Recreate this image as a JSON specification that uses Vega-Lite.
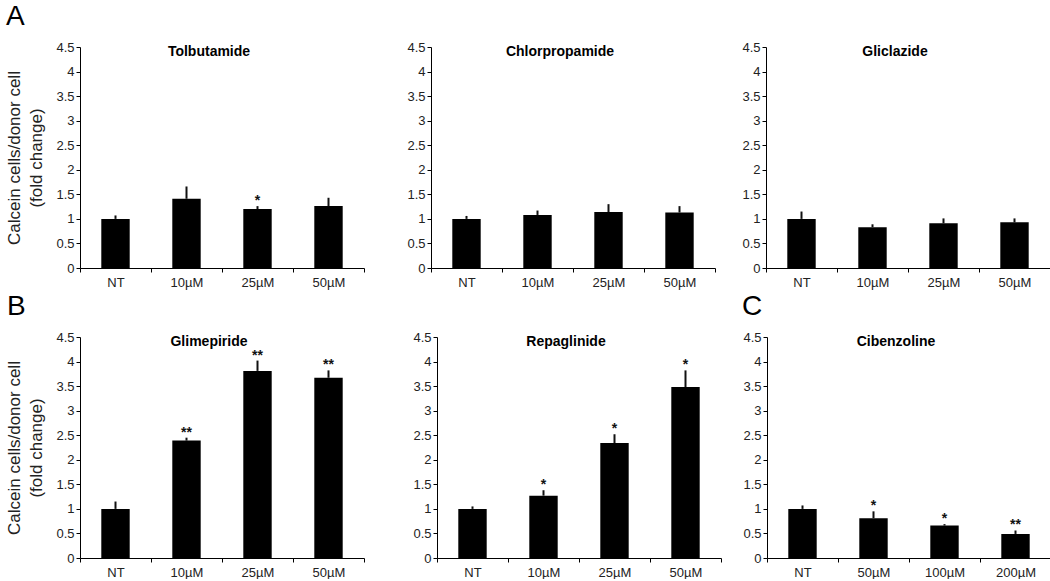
{
  "$schema": "https://vega.github.io/schema/vega-lite/v6.json",
  "background": "white",
  "padding": {"left": 5, "top": 3, "right": 0, "bottom": 0},
  "datasets": {
    "d": [
      {"drug": "Tolbutamide", "conc": "NT", "mean": 1.0, "upper": 1.07, "sig": ""},
      {"drug": "Tolbutamide", "conc": "10µM", "mean": 1.41, "upper": 1.66, "sig": ""},
      {"drug": "Tolbutamide", "conc": "25µM", "mean": 1.2, "upper": 1.26, "sig": "*"},
      {"drug": "Tolbutamide", "conc": "50µM", "mean": 1.26, "upper": 1.43, "sig": ""},
      {"drug": "Chlorpropamide", "conc": "NT", "mean": 1.0, "upper": 1.06, "sig": ""},
      {"drug": "Chlorpropamide", "conc": "10µM", "mean": 1.08, "upper": 1.17, "sig": ""},
      {"drug": "Chlorpropamide", "conc": "25µM", "mean": 1.14, "upper": 1.3, "sig": ""},
      {"drug": "Chlorpropamide", "conc": "50µM", "mean": 1.13, "upper": 1.26, "sig": ""},
      {"drug": "Gliclazide", "conc": "NT", "mean": 1.0, "upper": 1.15, "sig": ""},
      {"drug": "Gliclazide", "conc": "10µM", "mean": 0.83, "upper": 0.89, "sig": ""},
      {"drug": "Gliclazide", "conc": "25µM", "mean": 0.91, "upper": 1.01, "sig": ""},
      {"drug": "Gliclazide", "conc": "50µM", "mean": 0.93, "upper": 1.01, "sig": ""},
      {"drug": "Glimepiride", "conc": "NT", "mean": 1.0, "upper": 1.15, "sig": ""},
      {"drug": "Glimepiride", "conc": "10µM", "mean": 2.39, "upper": 2.45, "sig": "**"},
      {"drug": "Glimepiride", "conc": "25µM", "mean": 3.81, "upper": 4.02, "sig": "**"},
      {"drug": "Glimepiride", "conc": "50µM", "mean": 3.67, "upper": 3.82, "sig": "**"},
      {"drug": "Repaglinide", "conc": "NT", "mean": 1.0, "upper": 1.05, "sig": ""},
      {"drug": "Repaglinide", "conc": "10µM", "mean": 1.27, "upper": 1.38, "sig": "*"},
      {"drug": "Repaglinide", "conc": "25µM", "mean": 2.34, "upper": 2.52, "sig": "*"},
      {"drug": "Repaglinide", "conc": "50µM", "mean": 3.48, "upper": 3.82, "sig": "*"},
      {"drug": "Cibenzoline", "conc": "NT", "mean": 1.0, "upper": 1.07, "sig": ""},
      {"drug": "Cibenzoline", "conc": "50µM", "mean": 0.81, "upper": 0.95, "sig": "*"},
      {"drug": "Cibenzoline", "conc": "100µM", "mean": 0.66, "upper": 0.69, "sig": "*"},
      {"drug": "Cibenzoline", "conc": "200µM", "mean": 0.49, "upper": 0.56, "sig": "**"}
    ]
  },
  "vconcat": [
    {
      "title": {"text": "A", "anchor": "start", "fontSize": 28, "fontWeight": "normal", "offset": 10, "dx": 0, "frame": "bounds"},
      "spacing": 10,
      "hconcat": [
        {
          "width": 284, "height": 221,
          "title": {"text": "Tolbutamide", "offset": -18, "dx": -13, "fontSize": 14, "fontWeight": "bold", "anchor": "middle"},
          "data": {"name": "d"},
          "transform": [{"filter": "datum.drug == 'Tolbutamide'"}],
          "encoding": {
            "x": {"field": "conc", "type": "nominal", "sort": null, "scale": {"paddingInner": 0, "paddingOuter": 0}},
            "y": {"field": "mean", "type": "quantitative", "scale": {"domain": [0, 4.5], "nice": false}, "axis": {"title": ["Calcein cells/donor cell", "(fold change)"], "values": [0, 0.5, 1, 1.5, 2, 2.5, 3, 3.5, 4, 4.5], "format": "~g"}}
          },
          "layer": [
            {"mark": {"type": "bar", "width": {"band": 0.4}, "color": "#000"}},
            {"mark": {"type": "rule", "color": "#111", "strokeWidth": 2}, "encoding": {"y2": {"field": "upper"}}},
            {"mark": {"type": "text", "baseline": "alphabetic", "dy": -1, "fontSize": 14, "fontWeight": "bold", "color": "#111"}, "encoding": {"y": {"field": "upper", "type": "quantitative"}, "text": {"field": "sig"}}}
          ]
        },
        {
          "width": 284, "height": 221,
          "title": {"text": "Chlorpropamide", "offset": -18, "dx": -13, "fontSize": 14, "fontWeight": "bold", "anchor": "middle"},
          "data": {"name": "d"},
          "transform": [{"filter": "datum.drug == 'Chlorpropamide'"}],
          "encoding": {
            "x": {"field": "conc", "type": "nominal", "sort": null, "scale": {"paddingInner": 0, "paddingOuter": 0}},
            "y": {"field": "mean", "type": "quantitative", "scale": {"domain": [0, 4.5], "nice": false}, "axis": {"title": null, "minExtent": 56, "values": [0, 0.5, 1, 1.5, 2, 2.5, 3, 3.5, 4, 4.5], "format": "~g"}}
          },
          "layer": [
            {"mark": {"type": "bar", "width": {"band": 0.4}, "color": "#000"}},
            {"mark": {"type": "rule", "color": "#111", "strokeWidth": 2}, "encoding": {"y2": {"field": "upper"}}},
            {"mark": {"type": "text", "baseline": "alphabetic", "dy": -1, "fontSize": 14, "fontWeight": "bold", "color": "#111"}, "encoding": {"y": {"field": "upper", "type": "quantitative"}, "text": {"field": "sig"}}}
          ]
        },
        {
          "width": 284, "height": 221,
          "title": {"text": "Gliclazide", "offset": -18, "dx": -13, "fontSize": 14, "fontWeight": "bold", "anchor": "middle"},
          "data": {"name": "d"},
          "transform": [{"filter": "datum.drug == 'Gliclazide'"}],
          "encoding": {
            "x": {"field": "conc", "type": "nominal", "sort": null, "scale": {"paddingInner": 0, "paddingOuter": 0}},
            "y": {"field": "mean", "type": "quantitative", "scale": {"domain": [0, 4.5], "nice": false}, "axis": {"title": null, "minExtent": 40, "values": [0, 0.5, 1, 1.5, 2, 2.5, 3, 3.5, 4, 4.5], "format": "~g"}}
          },
          "layer": [
            {"mark": {"type": "bar", "width": {"band": 0.4}, "color": "#000"}},
            {"mark": {"type": "rule", "color": "#111", "strokeWidth": 2}, "encoding": {"y2": {"field": "upper"}}},
            {"mark": {"type": "text", "baseline": "alphabetic", "dy": -1, "fontSize": 14, "fontWeight": "bold", "color": "#111"}, "encoding": {"y": {"field": "upper", "type": "quantitative"}, "text": {"field": "sig"}}}
          ]
        }
      ]
    },
    {
      "spacing": 17,
      "hconcat": [
        {
          "title": {"text": "B", "anchor": "start", "fontSize": 28, "fontWeight": "normal", "offset": 10, "dx": 1, "frame": "bounds"},
          "spacing": 10,
          "hconcat": [
            {
              "width": 284, "height": 221,
              "title": {"text": "Glimepiride", "offset": -18, "dx": -13, "fontSize": 14, "fontWeight": "bold", "anchor": "middle"},
              "data": {"name": "d"},
              "transform": [{"filter": "datum.drug == 'Glimepiride'"}],
              "encoding": {
                "x": {"field": "conc", "type": "nominal", "sort": null, "scale": {"paddingInner": 0, "paddingOuter": 0}},
                "y": {"field": "mean", "type": "quantitative", "scale": {"domain": [0, 4.5], "nice": false}, "axis": {"title": ["Calcein cells/donor cell", "(fold change)"], "values": [0, 0.5, 1, 1.5, 2, 2.5, 3, 3.5, 4, 4.5], "format": "~g"}}
              },
              "layer": [
                {"mark": {"type": "bar", "width": {"band": 0.4}, "color": "#000"}},
                {"mark": {"type": "rule", "color": "#111", "strokeWidth": 2}, "encoding": {"y2": {"field": "upper"}}},
                {"mark": {"type": "text", "baseline": "alphabetic", "dy": -1, "fontSize": 14, "fontWeight": "bold", "color": "#111"}, "encoding": {"y": {"field": "upper", "type": "quantitative"}, "text": {"field": "sig"}}}
              ]
            },
            {
              "width": 284, "height": 221,
              "title": {"text": "Repaglinide", "offset": -18, "dx": -13, "fontSize": 14, "fontWeight": "bold", "anchor": "middle"},
              "data": {"name": "d"},
              "transform": [{"filter": "datum.drug == 'Repaglinide'"}],
              "encoding": {
                "x": {"field": "conc", "type": "nominal", "sort": null, "scale": {"paddingInner": 0, "paddingOuter": 0}},
                "y": {"field": "mean", "type": "quantitative", "scale": {"domain": [0, 4.5], "nice": false}, "axis": {"title": null, "minExtent": 62, "values": [0, 0.5, 1, 1.5, 2, 2.5, 3, 3.5, 4, 4.5], "format": "~g"}}
              },
              "layer": [
                {"mark": {"type": "bar", "width": {"band": 0.4}, "color": "#000"}},
                {"mark": {"type": "rule", "color": "#111", "strokeWidth": 2}, "encoding": {"y2": {"field": "upper"}}},
                {"mark": {"type": "text", "baseline": "alphabetic", "dy": -1, "fontSize": 14, "fontWeight": "bold", "color": "#111"}, "encoding": {"y": {"field": "upper", "type": "quantitative"}, "text": {"field": "sig"}}}
              ]
            }
          ]
        },
        {
          "title": {"text": "C", "anchor": "start", "fontSize": 28, "fontWeight": "normal", "offset": 10, "dx": 3, "frame": "bounds"},
          "vconcat": [
            {
              "width": 284, "height": 221,
              "title": {"text": "Cibenzoline", "offset": -18, "dx": -13, "fontSize": 14, "fontWeight": "bold", "anchor": "middle"},
              "data": {"name": "d"},
              "transform": [{"filter": "datum.drug == 'Cibenzoline'"}],
              "encoding": {
                "x": {"field": "conc", "type": "nominal", "sort": null, "scale": {"paddingInner": 0, "paddingOuter": 0}},
                "y": {"field": "mean", "type": "quantitative", "scale": {"domain": [0, 4.5], "nice": false}, "axis": {"title": null, "minExtent": 28, "values": [0, 0.5, 1, 1.5, 2, 2.5, 3, 3.5, 4, 4.5], "format": "~g"}}
              },
              "layer": [
                {"mark": {"type": "bar", "width": {"band": 0.4}, "color": "#000"}},
                {"mark": {"type": "rule", "color": "#111", "strokeWidth": 2}, "encoding": {"y2": {"field": "upper"}}},
                {"mark": {"type": "text", "baseline": "alphabetic", "dy": -1, "fontSize": 14, "fontWeight": "bold", "color": "#111"}, "encoding": {"y": {"field": "upper", "type": "quantitative"}, "text": {"field": "sig"}}}
              ]
            }
          ]
        }
      ]
    }
  ],
  "spacing": 4,
  "config": {
    "font": "Liberation Sans",
    "view": {"stroke": null},
    "text": {"font": "Liberation Sans"},
    "title": {"font": "Liberation Sans", "color": "#000"},
    "axis": {"grid": false, "domainColor": "#000", "tickColor": "#000", "tickSize": 4, "labelColor": "#222", "labelFont": "Liberation Sans", "labelFontSize": 13, "titleFont": "Liberation Sans", "titleFontSize": 17, "titleFontWeight": "normal", "titleColor": "#222"},
    "axisX": {"labelAngle": 0, "title": null, "tickBand": "extent", "labelPadding": 4},
    "axisY": {"labelPadding": 2, "titlePadding": 10, "titleLineHeight": 22}
  }
}
